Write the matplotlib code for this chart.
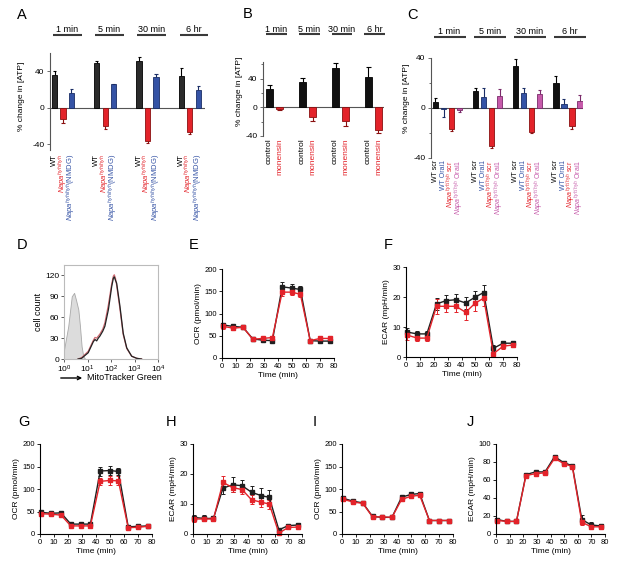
import matplotlib
matplotlib.use('Agg')
import matplotlib.pyplot as plt
import numpy as np
from matplotlib.transforms import blended_transform_factory as btf

plt.rcParams.update({
    'font.family': ['Liberation Sans', 'DejaVu Sans'],
    'mathtext.fontset': 'custom',
    'mathtext.rm': 'Liberation Sans',
    'mathtext.it': 'Liberation Sans:italic',
    'mathtext.bf': 'Liberation Sans:bold',
    'mathtext.sf': 'Liberation Sans',
    'axes.unicode_minus': False,
})

W, H = 617, 568
fig = plt.figure(figsize=(W / 100, H / 100), dpi=100)

# ---------------- data ----------------
time_labels = ['1 min', '5 min', '30 min', '6 hr']
NAPA = r'$\mathit{Napa}^{\mathit{hyh/hyh}}$'

A_labels = ['WT', NAPA, NAPA + '(NMDG)']
A_wt = [35.5, 48.5, 51.5, 34.5]
A_wt_err = [4.5, 2.5, 3.5, 9.0]
A_napa = [-12.5, -20, -36.5, -27]
A_napa_err = [4.5, 3.5, 2.5, 1.5]
A_nmdg = [16.5, 25.5, 34, 19]
A_nmdg_err = [3.5, 0.8, 3, 4.5]

B_labels = ['control', 'monensin']
B_control = [25, 34.5, 54, 41.5]
B_control_err = [6, 6, 8, 14]
B_monensin = [-2.5, -14, -18.5, -31]
B_monensin_err = [1, 4.5, 7, 4.5]

C_labels = ['WT scr', 'WT Orai1', NAPA + ' scr', NAPA + ' Orai1']
C_wt_scr = [5, 14, 33.5, 20]
C_wt_scr_err = [3, 2, 5.5, 6]
C_wt_orai = [-0.8, 9, 12, 3.5]
C_wt_orai_err = [6.5, 7, 4, 4]
C_napa_scr = [-17, -30.5, -19.5, -14.5]
C_napa_scr_err = [1, 1.5, 0.7, 2]
C_napa_orai = [-1.8, 9.5, 11, 6]
C_napa_orai_err = [1.3, 5.5, 3.5, 4.2]

# flow cytometry histogram (log10 fluorescence, cell count)
D_unstained_log = [0.0, 0.18, 0.33, 0.43, 0.51, 0.61, 0.68, 0.75, 0.82, 0.9]
D_unstained = [13, 47, 90, 95, 85, 71, 47, 18, 4, 0]
D_wt_log = [0.6, 0.75, 1.03, 1.25, 1.32, 1.39, 1.46, 1.53, 1.65, 1.74, 1.89, 2.03, 2.1, 2.14, 2.19, 2.24, 2.38, 2.52, 2.67, 2.88, 3.09, 3.3]
D_wt = [0, 1, 9, 25, 28, 26, 30, 33, 40, 47, 71, 104, 116, 118, 113, 109, 76, 37, 16, 4, 1, 0]
D_mut_log = [0.6, 0.75, 1.03, 1.25, 1.32, 1.39, 1.46, 1.53, 1.65, 1.74, 1.89, 2.03, 2.1, 2.14, 2.19, 2.24, 2.38, 2.52, 2.67, 2.88, 3.09, 3.3]
D_mut = [0, 2, 11, 27, 31, 30, 33, 36, 43, 52, 78, 108, 119, 121, 116, 106, 72, 35, 15, 4, 1, 0]

t_min = [1, 8, 15, 22, 29, 36, 43, 50, 56, 63, 70, 77]
E_wt = [74, 71, 69, 43, 40, 39, 160, 157, 154, 39, 38, 38]
E_wt_err = [5, 3, 2, 2, 2, 2, 11, 9, 8, 2, 2, 2]
E_mut = [71, 67, 69, 42, 44, 46, 148, 148, 143, 39, 44, 44]
E_mut_err = [5, 3, 2, 2, 3, 4, 8, 6, 6, 2, 3, 3]

F_wt = [8.3, 7.7, 7.7, 17.7, 18.8, 19.1, 18, 20, 21.5, 2.9, 4.6, 4.6]
F_wt_err = [1.5, 1, 1, 2, 2, 2, 2, 2, 2.5, 1, 0.8, 0.8]
F_mut = [7.3, 6.3, 6.3, 16.9, 16.9, 16.9, 14.9, 18, 19.6, 1.1, 3.6, 4]
F_mut_err = [1.5, 1, 1, 2.5, 2, 2, 2.5, 2.5, 2.5, 0.6, 0.8, 0.8]

G_wt = [48, 46, 47, 22, 22, 22, 140, 141, 139, 16, 17, 18]
G_wt_err = [3, 3, 2, 3, 3, 3, 10, 10, 8, 3, 3, 3]
G_mut = [45, 44, 42, 18, 18, 18, 117, 119, 118, 14, 15, 17]
G_mut_err = [3, 3, 2, 3, 3, 3, 8, 10, 10, 3, 3, 3]

H_wt = [5.5, 5.2, 5.2, 15.3, 16.4, 16.1, 13.9, 12.8, 12.2, 1.4, 2.8, 3.0]
H_wt_err = [1, 1, 0.8, 2, 2.5, 2, 2, 2.5, 2.5, 0.5, 0.6, 0.6]
H_mut = [5, 5, 5, 17.2, 15.5, 14.8, 11.4, 10.6, 10, 0.3, 2.2, 2.3]
H_mut_err = [1, 0.8, 0.8, 2, 1.5, 1.5, 1.5, 1.5, 1.5, 0.4, 0.6, 0.6]

I_wt = [79, 73, 69, 39, 37, 37, 82, 88, 90, 30, 30, 30]
I_wt_err = [2, 2, 2, 1, 1, 1, 2, 3, 3, 1, 1, 1]
I_mut = [77, 71, 68, 38, 38, 37, 77, 84, 86, 30, 30, 30]
I_mut_err = [3, 2, 2, 1, 1, 1, 4, 4, 4, 1, 1, 1]

J_wt = [16, 14, 14, 66, 69, 69, 86, 79, 76, 16, 10, 9]
J_wt_err = [1, 1, 1, 1, 1, 1, 2, 1, 1, 5, 3, 2]
J_mut = [15, 14, 14, 65, 67, 68, 84, 78, 75, 13, 8, 8]
J_mut_err = [1, 1, 1, 1, 1, 1, 1, 1, 1, 3, 2, 2]

BLACK = '#1f1f1f'
RED = '#e3232a'
BLUE = '#3553a5'
PINK = '#c65aaa'


def px_axes(l, t, r, b):
    return fig.add_axes([l / W, 1 - b / H, (r - l) / W, (b - t) / H])


def bar_panel(rect, ylim, yticks, minor, series, errs, colors, edges, labels,
              lab_colors, step, width, xlim, lab_top, lab_fs, t_y, l_y,
              l_span, t_off):
    ax = px_axes(*rect)
    tr = btf(ax.transData, fig.transFigure)
    ng = len(series[0])
    for k in range(len(series)):
        x = np.arange(ng) * step + k
        vals = np.array(series[k], float)
        e = np.array(errs[k], float)
        ax.bar(x, vals, width, color=colors[k], edgecolor=edges[k], lw=0.6,
               zorder=2)
        sgn = np.where(vals >= 0, 1.0, -1.0)
        tip = vals + sgn * e
        ax.vlines(x, vals, tip, color=edges[k], lw=0.8, zorder=3)
        ax.hlines(tip, x - width * 0.3, x + width * 0.3, color=edges[k],
                  lw=0.8, zorder=3)
        for g in range(ng):
            ax.text(x[g], 1 - lab_top / H, labels[k], rotation=90,
                    ha='center', va='top', color=lab_colors[k],
                    fontsize=lab_fs, transform=tr)
    for g in range(ng):
        base = g * step
        ax.text(base + t_off, 1 - t_y / H, time_labels[g], ha='center',
                va='center', fontsize=6.5, transform=tr)
        ax.plot([base + l_span[0], base + l_span[1]], [1 - l_y / H] * 2,
                color='#3a3a3a', lw=1.5, transform=tr, clip_on=False,
                solid_capstyle='butt')
    ax.axhline(0, color='#555555', lw=0.8, zorder=1)
    ax.set_xlim(*xlim)
    ax.set_ylim(*ylim)
    ax.set_yticks(yticks)
    ax.set_yticks(minor, minor=True)
    ax.set_xticks([])
    for s in ['top', 'right', 'bottom']:
        ax.spines[s].set_visible(False)
    ax.spines['left'].set_color('#555555')
    ax.spines['left'].set_linewidth(0.8)
    ax.tick_params(axis='y', which='both', direction='out', length=2.5,
                   width=0.6, labelsize=6, pad=1.5, color='#555555')
    ax.tick_params(axis='y', which='minor', length=1.8)
    return ax


# ---- A ----
axA = bar_panel((50, 53, 205, 150), (-46.2, 59.8), [-40, 0, 40], [],
                [A_wt, A_napa, A_nmdg], [A_wt_err, A_napa_err, A_nmdg_err],
                ['#2b2b2b', RED, BLUE], ['#000000', '#8a1010', '#1a2d66'],
                A_labels, ['black', RED, BLUE], 5, 0.62, (-0.54, 17.8), 154,
                5.5, 30, 34.5, (-0.2, 3.2), 1.5)
axA.set_ylabel('% change in [ATP]', fontsize=6)
axA.yaxis.set_label_coords((25 - 50) / 155, 0.55)

# ---- B ----
axB = bar_panel((263, 62, 384, 136), (-40, 63), [-40, 0, 40], [-20, 20, 60],
                [B_control, B_monensin], [B_control_err, B_monensin_err],
                ['#111111', RED], ['#000000', '#8a1010'],
                B_labels, ['black', RED], 3.3, 0.7, (-0.65, 11.45), 138,
                6, 29.5, 33.5, (-0.4, 1.7), 0.65)
axB.set_ylabel('% change in [ATP]', fontsize=6)
axB.yaxis.set_label_coords((243 - 263) / 121, 0.6)

# ---- C ----
axC = bar_panel((431, 58, 583, 158), (-40, 40), [-40, 0, 40], [-20, 20],
                [C_wt_scr, C_wt_orai, C_napa_scr, C_napa_orai],
                [C_wt_scr_err, C_wt_orai_err, C_napa_scr_err, C_napa_orai_err],
                ['#111111', BLUE, RED, PINK],
                ['#000000', '#1a2d66', '#8a1010', '#7a2a6a'],
                C_labels, ['black', BLUE, RED, PINK], 5, 0.69, (-0.56, 18.4),
                160, 5, 32, 37, (-0.2, 3.8), 1.75)
axC.set_ylabel('% change in [ATP]', fontsize=6)
axC.yaxis.set_label_coords((410 - 431) / 152, 0.6)

# ---- D ----
axD = px_axes(64, 265, 158, 359)
axD.fill_between(10 ** np.array(D_unstained_log), D_unstained, 0,
                 color='#dcdcdc', edgecolor='#a8a8a8', lw=0.6)
axD.plot(10 ** np.array(D_mut_log), D_mut, color='#d06a72', lw=0.9)
axD.plot(10 ** np.array(D_wt_log), D_wt, color='#222222', lw=0.9)
axD.set_xscale('log')
axD.set_xlim(1, 1e4)
axD.set_ylim(0, 135)
axD.set_yticks([0, 30, 60, 90, 120])
axD.set_xticks([1, 10, 100, 1000, 10000])
for s in axD.spines.values():
    s.set_color('#bbbbbb')
    s.set_linewidth(0.8)
axD.tick_params(axis='both', which='major', direction='out', length=2,
                width=0.6, labelsize=6, pad=1.5, color='#444444')
axD.tick_params(axis='x', which='minor', direction='in', length=1.5,
                width=0.5, color='#444444')
axD.set_ylabel('cell count', fontsize=6.5)
axD.yaxis.set_label_coords((43 - 64) / 94, 0.5)
fig.add_artist(matplotlib.patches.FancyArrowPatch(
    (58 / W, 1 - 378 / H), (85 / W, 1 - 378 / H), transform=fig.transFigure,
    arrowstyle='->', mutation_scale=6, lw=1, color='black'))
fig.text(87 / W, 1 - 378 / H, 'MitoTracker Green', fontsize=6.5,
         ha='left', va='center')


# ---- time courses ----
def line_panel(rect, ylim, yticks, ylabel, wt, wt_err, mut, mut_err):
    ax = px_axes(*rect)
    ax.errorbar(t_min, wt, yerr=wt_err, fmt='-s', color=BLACK, ms=2.2,
                lw=1.0, elinewidth=0.7, capsize=1.2, capthick=0.7,
                clip_on=False)
    ax.errorbar(t_min, mut, yerr=mut_err, fmt='-s', color=RED, ms=2.2,
                lw=1.0, elinewidth=0.7, capsize=1.2, capthick=0.7,
                clip_on=False)
    ax.set_xlim(0, 80)
    ax.set_ylim(*ylim)
    ax.set_xticks(range(0, 81, 10))
    ax.set_yticks(yticks)
    for s in ['top', 'right']:
        ax.spines[s].set_visible(False)
    for s in ['left', 'bottom']:
        ax.spines[s].set_linewidth(0.8)
    ax.tick_params(direction='out', length=2.2, width=0.6, labelsize=5.5,
                   pad=1.2)
    ax.set_xlabel('Time (min)', fontsize=6, labelpad=1.5)
    ax.set_ylabel(ylabel, fontsize=6, labelpad=2)
    return ax


line_panel((222, 269, 334, 358), (0, 200), [0, 50, 100, 150, 200],
           'OCR (pmol/min)', E_wt, E_wt_err, E_mut, E_mut_err)
line_panel((406, 267, 517, 357), (0, 30), [0, 10, 20, 30],
           'ECAR (mpH/min)', F_wt, F_wt_err, F_mut, F_mut_err)
line_panel((40, 444, 152, 534), (0, 200), [0, 50, 100, 150, 200],
           'OCR (pmol/min)', G_wt, G_wt_err, G_mut, G_mut_err)
line_panel((193, 444, 302, 534), (0, 30), [0, 10, 20, 30],
           'ECAR (mpH/min)', H_wt, H_wt_err, H_mut, H_mut_err)
line_panel((342, 444, 453, 534), (0, 200), [0, 50, 100, 150, 200],
           'OCR (pmol/min)', I_wt, I_wt_err, I_mut, I_mut_err)
line_panel((496, 444, 605, 534), (0, 100), [0, 20, 40, 60, 80, 100],
           'ECAR (mpH/min)', J_wt, J_wt_err, J_mut, J_mut_err)

# ---- panel letters ----
letters = [('A', 22, 15), ('B', 248, 14), ('C', 412, 15), ('D', 22, 245),
           ('E', 194, 245), ('F', 388, 245), ('G', 24, 422), ('H', 171, 422),
           ('I', 315, 422), ('J', 470, 422)]
for s, x, y in letters:
    fig.text(x / W, 1 - y / H, s, fontsize=10.5, ha='center', va='center')

fig.savefig('out.png', dpi=100)
